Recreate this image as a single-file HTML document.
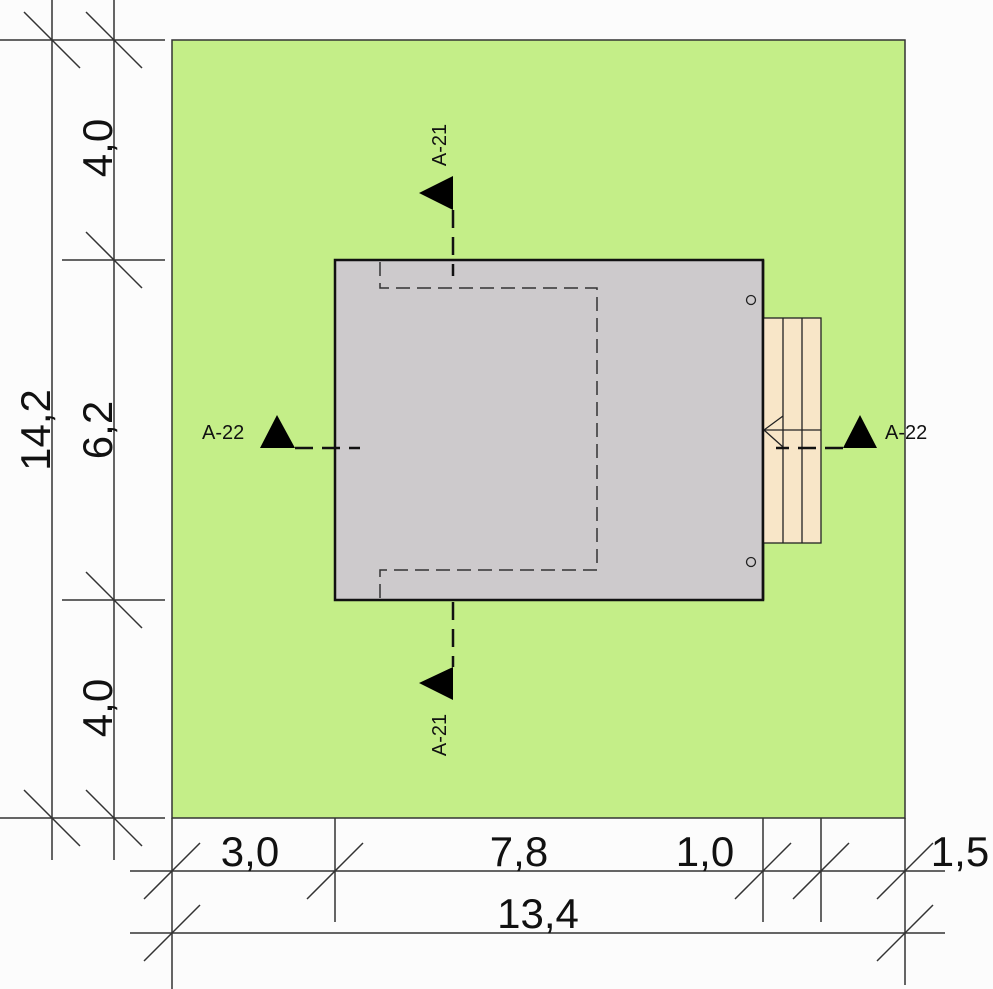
<!DOCTYPE html>
<html><head><style>html,body{margin:0;padding:0;background:#fcfcfc;}svg{display:block}</style></head><body>
<svg width="993" height="989" viewBox="0 0 993 989" xmlns="http://www.w3.org/2000/svg" font-family="Liberation Sans, sans-serif">
<rect x="0" y="0" width="993" height="989" fill="#fcfcfc"/>
<rect x="172" y="40" width="733" height="778" fill="#c4ee88" stroke="#333" stroke-width="1.5"/>
<rect x="335" y="260" width="428" height="340" fill="#cdcacc" stroke="#111" stroke-width="2.5"/>
<rect x="763" y="318" width="58" height="225" fill="#f8e6c8" stroke="#222" stroke-width="1.3"/>
<g stroke="#222" stroke-width="1.3" fill="none">
<line x1="783" y1="318" x2="783" y2="543"/><line x1="802" y1="318" x2="802" y2="543"/>
<line x1="763" y1="430" x2="821" y2="430"/>
<polyline points="783,416 764,430 783,447"/>
<circle cx="751" cy="300" r="4.5"/><circle cx="751" cy="562" r="4.5"/>
</g>
<line x1="763" y1="260" x2="763" y2="600" stroke="#111" stroke-width="2.5"/>
<polyline points="380,262 380,288 597,288 597,570 380,570 380,598" fill="none" stroke="#333" stroke-width="1.5" stroke-dasharray="14,7"/>
<g stroke="#111" stroke-width="2.5" fill="none" stroke-dasharray="18,9">
<line x1="453" y1="210" x2="453" y2="276"/>
<line x1="453" y1="602" x2="453" y2="667"/>
<line x1="295" y1="448" x2="360" y2="448"/>
<line x1="843" y1="448" x2="776" y2="448"/>
</g>
<g fill="#000">
<polygon points="453,176 453,210 419,193"/>
<polygon points="453,667 453,700 419,683"/>
<polygon points="260,448 295,448 277,415"/>
<polygon points="843,448 877,448 860,415"/>
</g>
<g font-size="20" fill="#111">
<text transform="translate(446,145) rotate(-90)" text-anchor="middle">A-21</text>
<text transform="translate(446,735) rotate(-90)" text-anchor="middle">A-21</text>
<text x="202" y="439">A-22</text>
<text x="885" y="439">A-22</text>
</g>
<g stroke="#333" stroke-width="1.5" fill="none">
<line x1="52" y1="0" x2="52" y2="860"/><line x1="114" y1="0" x2="114" y2="860"/>
<line x1="0" y1="40" x2="165" y2="40"/>
<line x1="62" y1="260" x2="165" y2="260"/>
<line x1="62" y1="600" x2="165" y2="600"/>
<line x1="0" y1="818" x2="165" y2="818"/>
<line x1="24" y1="12" x2="80" y2="68"/><line x1="86" y1="12" x2="142" y2="68"/>
<line x1="86" y1="232" x2="142" y2="288"/>
<line x1="86" y1="572" x2="142" y2="628"/>
<line x1="24" y1="790" x2="80" y2="846"/><line x1="86" y1="790" x2="142" y2="846"/>
<line x1="130" y1="871" x2="945" y2="871"/><line x1="130" y1="933" x2="945" y2="933"/>
<line x1="172" y1="818" x2="172" y2="989"/>
<line x1="335" y1="818" x2="335" y2="922"/>
<line x1="763" y1="818" x2="763" y2="922"/>
<line x1="821" y1="818" x2="821" y2="922"/>
<line x1="905" y1="818" x2="905" y2="985"/>
<line x1="144" y1="899" x2="200" y2="843"/><line x1="307" y1="899" x2="363" y2="843"/>
<line x1="735" y1="899" x2="791" y2="843"/><line x1="793" y1="899" x2="849" y2="843"/>
<line x1="877" y1="899" x2="933" y2="843"/>
<line x1="144" y1="961" x2="200" y2="905"/><line x1="877" y1="961" x2="933" y2="905"/>
</g>
<g font-size="42" fill="#111" text-anchor="middle">
<text transform="translate(112,148) rotate(-90)">4,0</text>
<text transform="translate(112,430) rotate(-90)">6,2</text>
<text transform="translate(50,430) rotate(-90)">14,2</text>
<text transform="translate(112,708) rotate(-90)">4,0</text>
<text x="250" y="866">3,0</text>
<text x="519" y="866">7,8</text>
<text x="705" y="866">1,0</text>
<text x="960" y="866">1,5</text>
<text x="538" y="928">13,4</text>
</g>
</svg>
</body></html>
